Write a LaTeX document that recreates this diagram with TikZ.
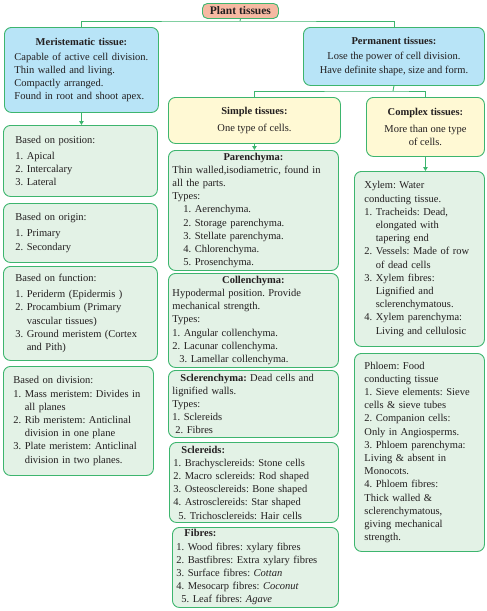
\documentclass[tikz,border=0pt]{standalone}
\usepackage{fontspec}
\setmainfont{Liberation Serif}
\usetikzlibrary{arrows.meta}
\setlength{\parindent}{0pt}
\frenchspacing

\definecolor{lineGreen}{HTML}{3DB56E}
\definecolor{greenFill}{HTML}{E3F2E6}
\definecolor{blueFill}{HTML}{B8E4F7}
\definecolor{yellowFill}{HTML}{FFF9D4}
\definecolor{titleFill}{HTML}{F6B9A2}
\definecolor{textDark}{HTML}{231F20}

\newcommand{\boxhead}[1]{\hspace*{\fill}\textbf{#1}\hspace*{\fill}\null}
\newcommand{\hangin}{\hphantom{2. }}

\tikzset{
  tissue/.style={draw=lineGreen, line width=0.9pt, rounded corners=7pt,
    anchor=north west, inner ysep=2pt, text=textDark,
    font=\fontsize{10.5}{13.2}\selectfont\frenchspacing},
  bluebox/.style={tissue, fill=blueFill},
  yellowbox/.style={tissue, fill=yellowFill, align=center},
  greenbox/.style={tissue, fill=greenFill, align=left, inner xsep=10pt},
  simplebox/.style={greenbox, inner xsep=4pt},
  link/.style={draw=lineGreen, line width=0.9pt},
  flow/.style={link, -{Triangle[width=4.5pt,length=4pt]}}
}

\begin{document}
\begin{tikzpicture}[x=1pt,y=-1pt]
  \useasboundingbox (0,0) rectangle (487,611);

  % Titel
  \node[tissue, fill=titleFill, rounded corners=5pt, minimum width=76pt,
    minimum height=15pt, inner sep=0pt,
    font=\fontsize{11.5}{12}\selectfont\bfseries] (title) at (202,3) {Plant tissues};

  % Hovedgrupper
  \node[bluebox, align=left, inner xsep=10pt, text width=134pt,
    minimum width=154pt, minimum height=85pt] (meri) at (4,27)
    {\boxhead{Meristematic tissue:}\\[2pt]
     Capable of active cell division.\\
     Thin walled and living.\\
     Compactly arranged.\\
     Found in root and shoot apex.};
  \node[bluebox, align=center, minimum width=181pt, minimum height=58pt] (perm) at (303,27)
    {\textbf{Permanent tissues:}\\[2pt]
     Lose the power of cell division.\\
     Have definite shape, size and form.};

  % Permanente vev
  \node[yellowbox, minimum width=172pt, minimum height=46pt] (simple) at (168,97)
    {\textbf{Simple tissues:}\\[3pt] One type of cells.};
  \node[yellowbox, minimum width=118pt, minimum height=59pt] (complex) at (366,97)
    {\textbf{Complex tissues:}\\[3pt] More than one type\\ of cells.};

  % Meristemer
  \node[greenbox, inner xsep=12pt, text width=130pt, minimum width=154pt, minimum height=71pt] (pos) at (3,125)
    {Based on position:\\[3pt]
     1. Apical\\
     2. Intercalary\\
     3. Lateral};
  \node[greenbox, inner xsep=12pt, text width=130pt, minimum width=154pt, minimum height=59pt] (orig) at (3,203)
    {Based on origin:\\[3pt]
     1. Primary\\
     2. Secondary};
  \node[greenbox, inner xsep=12pt, text width=130pt, minimum width=154pt, minimum height=94pt] (func) at (3,266)
    {Based on function:\\[3pt]
     1. Periderm (Epidermis )\\
     2. Procambium (Primary\\
     \hangin vascular tissues)\\
     3. Ground meristem (Cortex\\
     \hangin and Pith)};
  \node[greenbox, inner xsep=10pt, text width=130pt, minimum width=150pt, minimum height=109pt] (divi) at (3,366)
    {Based on division:\\
     1. Mass meristem: Divides in\\
     \hangin all planes\\
     2. Rib meristem: Anticlinal\\
     \hangin division in one plane\\
     3. Plate meristem: Anticlinal\\
     \hangin division in two planes.};

  % Enkle vev
  \node[simplebox, text width=162pt, minimum width=170pt, minimum height=120pt] (paren) at (168,150)
    {\boxhead{Parenchyma:}\\
     Thin walled,isodiametric, found in\\
     all the parts.\\
     Types:\\
     \hspace*{11pt}1. Aerenchyma.\\
     \hspace*{11pt}2. Storage parenchyma.\\
     \hspace*{11pt}3. Stellate parenchyma.\\
     \hspace*{11pt}4. Chlorenchyma.\\
     \hspace*{11pt}5. Prosenchyma.};
  \node[simplebox, text width=162pt, minimum width=170pt, minimum height=94pt] (colle) at (168,273)
    {\boxhead{Collenchyma:}\\
     Hypodermal position. Provide\\
     mechanical strength.\\
     Types:\\
     1. Angular collenchyma.\\
     2. Lacunar collenchyma.\\
     \hspace*{7pt}3. Lamellar collenchyma.};
  \node[simplebox, text width=162pt, minimum width=170pt, minimum height=67pt] (scler) at (168,370)
    {\hspace*{8pt}\textbf{Sclerenchyma:} Dead cells and\\
     lignified walls.\\
     Types:\\
     1. Sclereids\\
     \hspace*{3pt}2. Fibres};
  \node[simplebox, text width=161pt, minimum width=169pt, minimum height=80pt] (sclei) at (169,442)
    {\hspace*{8pt}\textbf{Sclereids:}\\
     1. Brachysclereids: Stone cells\\
     2. Macro sclereids: Rod shaped\\
     3. Osteosclereids: Bone shaped\\
     4. Astrosclereids: Star shaped\\
     \hspace*{5pt}5. Trichosclereids: Hair cells};
  \node[simplebox, text width=158pt, minimum width=166pt, minimum height=80pt] (fibre) at (172,527)
    {\hspace*{8pt}\textbf{Fibres:}\\
     1. Wood fibres: xylary fibres\\
     2. Bastfibres: Extra xylary fibres\\
     3. Surface fibres: \textit{Cottan}\\
     4. Mesocarp fibres: \textit{Coconut}\\
     \hspace*{5pt}5. Leaf fibres: \textit{Agave}};

  % Sammensatte vev
  \node[greenbox, text width=110pt, minimum width=130pt, minimum height=175pt] (xylem) at (354,171)
    {Xylem: Water\\
     conducting tissue.\\
     1. Tracheids: Dead,\\
     \hangin elongated with\\
     \hangin tapering end\\
     2. Vessels: Made of row\\
     \hangin of dead cells\\
     3. Xylem fibres:\\
     \hangin Lignified and\\
     \hangin sclerenchymatous.\\
     4. Xylem parenchyma:\\
     \hangin Living and cellulosic};
  \node[greenbox, text width=110pt, minimum width=130pt, minimum height=198pt] (phloem) at (354,353)
    {Phloem: Food\\
     conducting tissue\\
     1. Sieve elements: Sieve\\
     cells \& sieve tubes\\
     2. Companion cells:\\
     Only in Angiosperms.\\
     3. Phloem parenchyma:\\
     Living \& absent in\\
     Monocots.\\
     4. Phloem fibres:\\
     Thick walled \&\\
     sclerenchymatous,\\
     giving mechanical\\
     strength.};

  % Linjer
  \coordinate (topjoin) at (240,21);
  \coordinate (permjoin) at (393,91);
  \draw[link] (title.south) -- (topjoin);
  \draw[link] (meri.north) |- (topjoin) -| (perm.north);
  \draw[link] (perm.south) -- (permjoin);
  \draw[link] (simple.north) |- (permjoin) -| (complex.north);

  % Piler
  \draw[flow] (meri.south) -- (meri.south |- pos.north);
  \draw[flow] (simple.south) -- (simple.south |- paren.north);
  \draw[flow] (complex.south) -- (complex.south |- xylem.north);
\end{tikzpicture}
\end{document}
